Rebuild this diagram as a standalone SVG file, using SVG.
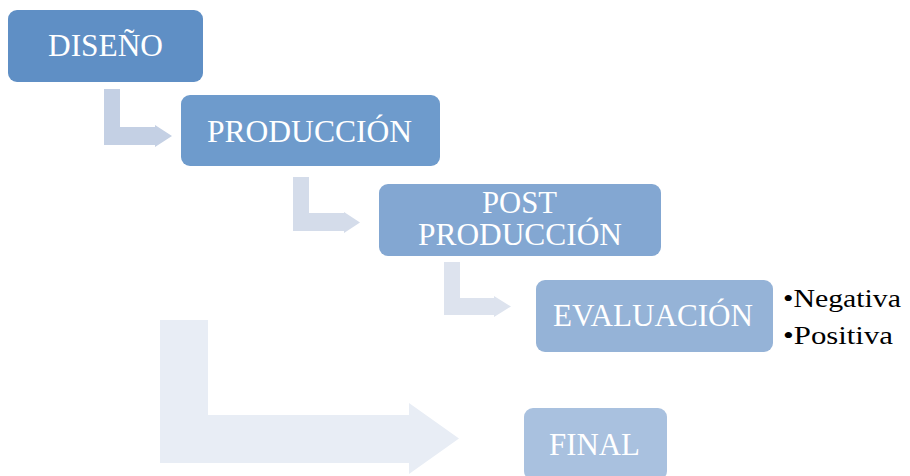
<svg xmlns="http://www.w3.org/2000/svg" width="910" height="476" viewBox="0 0 910 476">
<style>
text{font-family:'Liberation Serif','Times New Roman',Tinos,'DejaVu Serif',serif}
.lbl{font-size:31px;fill:#ffffff}
.side{font-size:26px;fill:#000000}
</style>
<rect width="910" height="476" fill="#ffffff"/>
<g id="connectors">
<path d="M104 89 H120 V127 H155 V125 L172 136 L155 147 V145 H104 Z" fill="#c4d0e4"/>
<path d="M293 177 H309 V213 H344 V212 L360 222.5 L344 233 V231 H293 Z" fill="#d4dcea"/>
<path d="M444 262 H460 V298 H494 V296 L511 306.5 L494 317 V315 H444 Z" fill="#dde3ee"/>
<path d="M160 320 H208 V415 H409 V403 L459 438.5 L409 474 V463 H160 Z" fill="#e8edf5"/>
</g>
<g id="diseno">
<rect x="8" y="10" width="195" height="72" rx="9" fill="#5f8fc5"/>
<text class="lbl" x="48" y="56" textLength="115" lengthAdjust="spacingAndGlyphs">DISEÑO</text>
</g>
<g id="produccion">
<rect x="181" y="95" width="259" height="71" rx="9" fill="#6e9bcc"/>
<text class="lbl" x="207" y="142" textLength="205" lengthAdjust="spacingAndGlyphs">PRODUCCIÓN</text>
</g>
<g id="postproduccion">
<rect x="379" y="184" width="282" height="72" rx="9" fill="#83a7d2"/>
<text class="lbl" x="482" y="213" textLength="75" lengthAdjust="spacingAndGlyphs">POST</text>
<text class="lbl" x="418" y="245" textLength="204" lengthAdjust="spacingAndGlyphs">PRODUCCIÓN</text>
</g>
<g id="evaluacion">
<rect x="536" y="280" width="237" height="72" rx="9" fill="#95b3d7"/>
<text class="lbl" x="553" y="326" textLength="200" lengthAdjust="spacingAndGlyphs">EVALUACIÓN</text>
<text class="side" x="783" y="307" textLength="118" lengthAdjust="spacingAndGlyphs">•Negativa</text>
<text class="side" x="783" y="344" textLength="110" lengthAdjust="spacingAndGlyphs">•Positiva</text>
</g>
<g id="final">
<rect x="524" y="408" width="143" height="72" rx="9" fill="#a9c1df"/>
<text class="lbl" x="549" y="455" textLength="91" lengthAdjust="spacingAndGlyphs">FINAL</text>
</g>
</svg>
